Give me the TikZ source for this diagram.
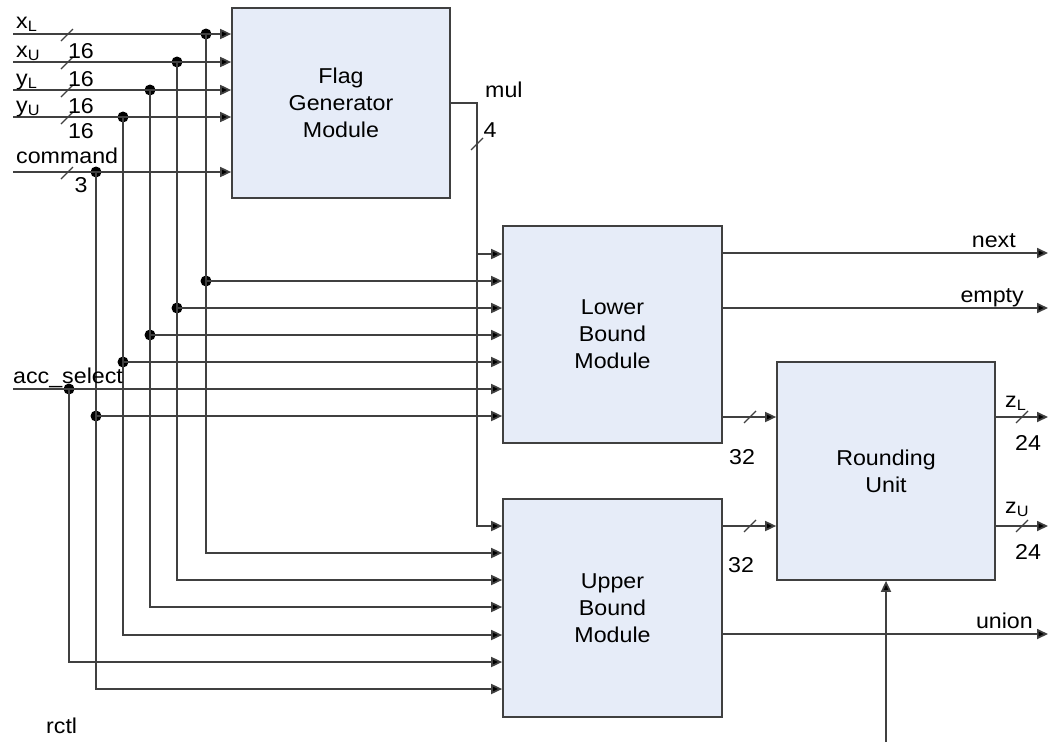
\documentclass[tikz,border=0pt]{standalone}
\usepackage{fontspec}
\setmainfont{Liberation Sans}[FakeStretch=1.08]
\usetikzlibrary{arrows.meta}
\definecolor{boxfill}{HTML}{E6ECF8}
\definecolor{ln}{HTML}{404040}
\begin{document}
\begin{tikzpicture}[x=1pt,y=-1pt,
  font=\fontsize{21.5}{27}\selectfont,
  box/.style={draw=ln, fill=boxfill, line width=1.7pt, align=center, inner sep=0pt},
  wire/.style={draw=ln, line width=1.7pt},
  arr/.style={wire, -{Triangle[length=11pt,width=10pt,fill=black]}},
  dot/.style={circle, fill=black, inner sep=0pt, minimum size=11pt},
  lbl/.style={inner sep=0pt},
  slashmark/.style={draw=ln, line width=1.2pt}
]
\useasboundingbox (0,0) rectangle (1059,742);

% boxes
\node[box, minimum width=218pt, minimum height=190pt] (flag) at (341,103) {Flag\\Generator\\Module};
\node[box, minimum width=219pt, minimum height=217pt] (lower) at (612.5,334.5) {Lower\\Bound\\Module};
\node[box, minimum width=219pt, minimum height=218pt] (upper) at (612.5,608) {Upper\\Bound\\Module};
\node[box, minimum width=218pt, minimum height=218pt] (round) at (886,471) {Rounding\\Unit};

% input start points
\coordinate (inXL) at (13,34);
\coordinate (inXU) at (13,62);
\coordinate (inYL) at (13,90);
\coordinate (inYU) at (13,117);
\coordinate (inCmd) at (13,172);
\coordinate (inAcc) at (13,389);

% junction dots
\node[dot] (dXL) at (206,34) {};
\node[dot] (dXU) at (177,62) {};
\node[dot] (dYL) at (150,90) {};
\node[dot] (dYU) at (123,117) {};
\node[dot] (dCmd) at (96,172) {};
\node[dot] (dXL2) at (206,281) {};
\node[dot] (dXU2) at (177,308) {};
\node[dot] (dYL2) at (150,335) {};
\node[dot] (dYU2) at (123,362) {};
\node[dot] (dAcc) at (69,389) {};
\node[dot] (dCmd2) at (96,416) {};

% upper-box entry levels
\coordinate (uXL) at (0,553);
\coordinate (uXU) at (0,580);
\coordinate (uYL) at (0,607);
\coordinate (uYU) at (0,635);
\coordinate (uAcc) at (0,662);
\coordinate (uCmd) at (0,689);

% inputs to flag generator
\draw[arr] (inXL) -- (inXL -| flag.west);
\draw[arr] (inXU) -- (inXU -| flag.west);
\draw[arr] (inYL) -- (inYL -| flag.west);
\draw[arr] (inYU) -- (inYU -| flag.west);
\draw[arr] (inCmd) -- (inCmd -| flag.west);

% vertical buses
\draw[wire] (dXL.center) -- (dXL2.center);
\draw[wire] (dXU.center) -- (dXU2.center);
\draw[wire] (dYL.center) -- (dYL2.center);
\draw[wire] (dYU.center) -- (dYU2.center);
\draw[wire] (dCmd.center) -- (dCmd2.center);

% to lower bound
\draw[arr] (dXL2.center) -- (dXL2 -| lower.west);
\draw[arr] (dXU2.center) -- (dXU2 -| lower.west);
\draw[arr] (dYL2.center) -- (dYL2 -| lower.west);
\draw[arr] (dYU2.center) -- (dYU2 -| lower.west);
\draw[arr] (inAcc) -- (inAcc -| lower.west);
\draw[arr] (dCmd2.center) -- (dCmd2 -| lower.west);

% to upper bound
\draw[arr] (dXL2.center) |- (uXL -| upper.west);
\draw[arr] (dXU2.center) |- (uXU -| upper.west);
\draw[arr] (dYL2.center) |- (uYL -| upper.west);
\draw[arr] (dYU2.center) |- (uYU -| upper.west);
\draw[arr] (dAcc.center) |- (uAcc -| upper.west);
\draw[arr] (dCmd2.center) |- (uCmd -| upper.west);

% mul
\coordinate (mulA) at (477,254);
\coordinate (mulB) at (477,526);
\draw[arr] (flag.east) -| (mulA) -- (mulA -| lower.west);
\draw[arr] (mulA) |- (mulB -| upper.west);

% outputs
\coordinate (oNext) at (1048,253);
\coordinate (oEmpty) at (1048,308);
\coordinate (zL) at (1048,417);
\coordinate (zU) at (1048,526);
\coordinate (oUnion) at (1048,634);
\coordinate (rctlIn) at (886,742);
\draw[arr] (oNext -| lower.east) -- (oNext);
\draw[arr] (oEmpty -| lower.east) -- (oEmpty);
\draw[arr] (zL -| lower.east) -- (zL -| round.west);
\draw[arr] (zU -| upper.east) -- (zU -| round.west);
\draw[arr] (zL -| round.east) -- (zL);
\draw[arr] (zU -| round.east) -- (zU);
\draw[arr] (oUnion -| upper.east) -- (oUnion);
\draw[arr] (rctlIn) -- (round.south);

% bus width slashes
\foreach \yy in {35,63,91,118,173} \draw[slashmark] (67,\yy) ++(-6,6) -- ++(12,-12);
\draw[slashmark] (477,144) ++(-6,6) -- ++(12,-12);
\draw[slashmark] (750,417) ++(-6,6) -- ++(12,-12);
\draw[slashmark] (750,526) ++(-6,6) -- ++(12,-12);
\draw[slashmark] (1022,417) ++(-6,6) -- ++(12,-12);
\draw[slashmark] (1022,526) ++(-6,6) -- ++(12,-12);

% labels
\node[lbl, anchor=base west] (lxl) at (16,28) {x\textsubscript{L}};
\node[lbl, anchor=base west] (lxu) at (16,57) {x\textsubscript{U}};
\node[lbl, anchor=base west] (lyl) at (16,85) {y\textsubscript{L}};
\node[lbl, anchor=base west] (lyu) at (16,112) {y\textsubscript{U}};
\node[lbl, anchor=base west] (lcmd) at (16,163) {command};
\node[lbl] (w1) at (81,51) {16};
\node[lbl] (w2) at (81,79) {16};
\node[lbl] (w3) at (81,106) {16};
\node[lbl] (w4) at (81,131) {16};
\node[lbl] (w5) at (81,185) {3};
\node[lbl, anchor=base west] (lmul) at (485,97) {mul};
\node[lbl] (w6) at (490,130) {4};
\node[lbl, anchor=base west] (lacc) at (13,383) {acc\_select};
\node[lbl, anchor=base west] (lrctl) at (46,733) {rctl};
\node[lbl, anchor=base east] (lnext) at (1016,247) {next};
\node[lbl, anchor=base east] (lempty) at (1024,302) {empty};
\node[lbl, anchor=base east] (lunion) at (1033,628) {union};
\node[lbl] (w7) at (742,457) {32};
\node[lbl] (w8) at (741,565) {32};
\node[lbl, anchor=base west] (lzl) at (1005,407) {z\textsubscript{L}};
\node[lbl, anchor=base west] (lzu) at (1005,513) {z\textsubscript{U}};
\node[lbl] (w9) at (1028,443) {24};
\node[lbl] (w10) at (1028,552) {24};
\end{tikzpicture}
\end{document}
